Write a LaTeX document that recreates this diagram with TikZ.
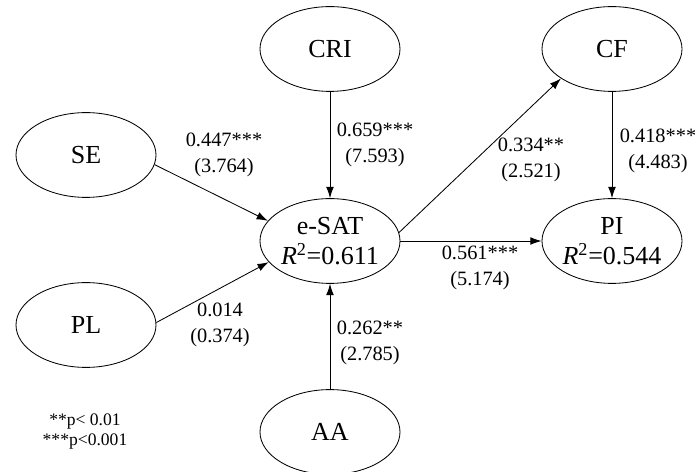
\documentclass[tikz,border=0pt]{standalone}
\usepackage{fontspec}
\setmainfont{Liberation Serif}
\usetikzlibrary{arrows.meta,shapes.geometric}

\begin{document}
\begin{tikzpicture}[->,>={Latex[length=8pt,width=5.5pt]},line width=0.6pt,
  construct/.style={ellipse,draw,-,line width=0.6pt,minimum width=3.5cm,minimum height=2.12cm,inner sep=0pt,align=center,font=\fontsize{18.5}{21.5}\selectfont},
  coef/.style={align=center,font=\fontsize{14.5}{18.4}\selectfont}]
\useasboundingbox (0,0) rectangle (17.375,11.775);

% Constructs
\node[construct] (cri) at (8.25,10.55) {CRI};
\node[construct] (cf) at (15.3,10.55) {CF};
\node[construct] (se) at (2.15,7.9) {SE};
\node[construct] (esat) at (8.25,5.75) {e-SAT\\\textit{R}\textsuperscript{2}=0.611};
\node[construct] (pi) at (15.3,5.75) {PI\\\textit{R}\textsuperscript{2}=0.544};
\node[construct] (pl) at (2.15,3.65) {PL};
\node[construct] (aa) at (8.25,0.975) {AA};

% Paths
\draw (se.-8) -- (esat.162);
\draw (pl.2) -- (esat.199);
\draw (cri) -- (esat);
\draw (aa) -- (esat);
\draw (esat.7) -- (cf.210);
\draw (esat) -- (pi);
\draw (cf) -- (pi);

% Coefficients
\node[coef] (c-se) at (5.6,7.9) {0.447***\\(3.764)};
\node[coef] (c-cri) at (9.375,8.15) {0.659***\\(7.593)};
\node[coef] (c-cf) at (13.275,7.775) {0.334**\\(2.521)};
\node[coef] (c-pi) at (16.45,8.0) {0.418***\\(4.483)};
\node[coef] (c-esat) at (12.0,5.075) {0.561***\\(5.174)};
\node[coef] (c-pl) at (5.5,3.65) {0.014\\(0.374)};
\node[coef] (c-aa) at (9.25,3.2) {0.262**\\(2.785)};

% Legend
\node[align=center,font=\fontsize{12.5}{14.2}\selectfont] (legend) at (2.125,0.975) {**p< 0.01\\***p<0.001};

\end{tikzpicture}
\end{document}
